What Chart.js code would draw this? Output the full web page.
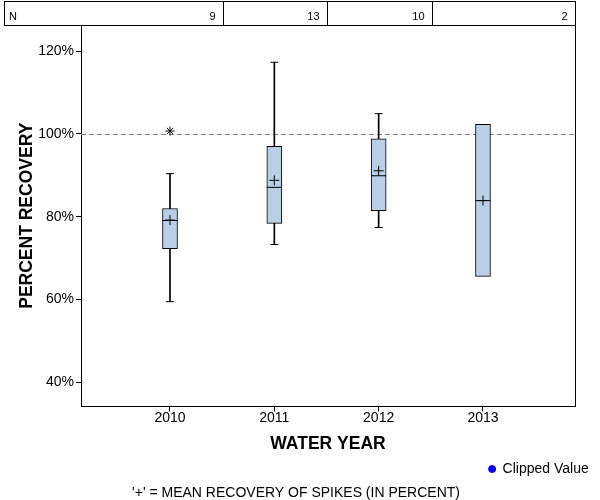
<!DOCTYPE html>
<html><head><meta charset="utf-8">
<script src="https://cdn.jsdelivr.net/npm/chart.js@4/dist/chart.umd.min.js"></script>
<style>html,body{margin:0;padding:0;background:#fff}#wrap{width:600px;height:500px;position:relative}</style>
</head><body><div id="wrap"><canvas id="c"></canvas></div>
<script>
const years = [2010, 2011, 2012, 2013];
const counts = [9, 13, 10, 2];
const whiskerLow = [59.5, 73.3, 77.4, null];
const q1 = [72.3, 78.4, 81.5, 65.6];
const median = [79.1, 87.1, 89.9, 83.9];
const q3 = [82.0, 97.0, 98.8, 102.3];
const whiskerHigh = [90.4, 117.3, 104.9, null];
const means = [79.2, 88.8, 91.1, 83.9];
const outlierYears = [2010];
const outlierValues = [100.7];
const yTicks = [40, 60, 80, 100, 120];
const referenceValue = 100;
const FONT = '"Liberation Sans", Arial, sans-serif';

const whiskerData = years.map((x, i) => whiskerLow[i] == null ? null : {x: x, y: [whiskerLow[i], whiskerHigh[i]]}).filter(d => d);
const boxData = years.map((x, i) => ({x: x, y: [q1[i], q3[i]]}));
const capData = [];
years.forEach((x, i) => {
  if (whiskerLow[i] != null) capData.push({x: x, y: whiskerLow[i]});
  if (whiskerHigh[i] != null) capData.push({x: x, y: whiskerHigh[i]});
});
const medianData = years.map((x, i) => ({x: x, y: median[i]}));
const meanData = years.map((x, i) => ({x: x, y: means[i]}));
const outlierData = outlierYears.map((x, i) => ({x: x, y: outlierValues[i]}));

const framePlugin = {
  id: 'frame',
  beforeDatasetsDraw(chart) {
    const {ctx, chartArea: a, scales} = chart;
    const y = Math.round(scales.y.getPixelForValue(referenceValue)) + 0.5;
    ctx.save();
    ctx.strokeStyle = '#808080';
    ctx.lineWidth = 1;
    ctx.setLineDash([5, 3]);
    ctx.beginPath(); ctx.moveTo(a.left, y); ctx.lineTo(a.right, y); ctx.stroke();
    ctx.restore();
  },
  afterDraw(chart) {
    const {ctx, chartArea: a, scales} = chart;
    const xs = scales.x;
    ctx.save();
    ctx.strokeStyle = '#000';
    ctx.lineWidth = 1;
    ctx.beginPath();
    ctx.moveTo(Math.round(a.right) + 0.5, Math.round(a.top));
    ctx.lineTo(Math.round(a.right) + 0.5, Math.round(a.bottom));
    ctx.stroke();
    const top = 1.5, bot = Math.round(a.top) + 0.5, left = 4.5, right = Math.round(a.right) + 0.5;
    ctx.strokeRect(left, top, right - left, bot - top);
    const dividers = [];
    for (let i = 0; i < years.length - 1; i++) {
      dividers.push(Math.round(xs.getPixelForValue((years[i] + years[i + 1]) / 2)) + 1.5);
    }
    dividers.forEach(d => { ctx.beginPath(); ctx.moveTo(d, top); ctx.lineTo(d, bot); ctx.stroke(); });
    ctx.fillStyle = '#000';
    ctx.font = '11px ' + FONT;
    ctx.textBaseline = 'middle';
    const my = (top + bot) / 2 + 3;
    ctx.textAlign = 'left';
    ctx.fillText('N', 9, my);
    ctx.textAlign = 'right';
    const ends = dividers.concat([right]);
    counts.forEach((n, i) => ctx.fillText(String(n), ends[i] - 8, my));
    ctx.restore();
  }
};

new Chart(document.getElementById('c'), {
  data: {
    datasets: [
      {type: 'bar', label: 'whisker', data: whiskerData, backgroundColor: '#000', borderWidth: 0, barThickness: 1, grouped: false, order: 5},
      {type: 'bar', label: 'box', data: boxData, backgroundColor: '#b9cfe7', borderColor: '#000', borderWidth: 1, borderSkipped: false, barThickness: 15, grouped: false, order: 4},
      {type: 'scatter', label: 'caps', data: capData, pointStyle: 'line', pointRadius: 4, borderColor: '#000', borderWidth: 1, order: 3},
      {type: 'scatter', label: 'median', data: medianData, pointStyle: 'line', pointRadius: 7.5, borderColor: '#000', borderWidth: 1, order: 2},
      {type: 'scatter', label: 'mean', data: meanData, pointStyle: 'cross', pointRadius: 5, borderColor: '#000', borderWidth: 1, order: 1},
      {type: 'scatter', label: 'outlier', data: outlierData, pointStyle: 'star', pointRadius: 4.5, borderColor: '#000', borderWidth: 1, order: 1},
      {type: 'scatter', label: 'Clipped Value', data: [], pointStyle: 'circle', backgroundColor: '#0000ff', borderColor: '#0000ff', order: 0}
    ]
  },
  options: {
    responsive: true,
    maintainAspectRatio: false,
    animation: false,
    layout: {padding: {left: 0, right: 8, top: 25, bottom: 0}},
    plugins: {
      tooltip: {enabled: false},
      legend: {
        position: 'bottom', align: 'end',
        labels: {
          filter: item => item.text === 'Clipped Value',
          usePointStyle: true, boxWidth: 7, boxHeight: 5, padding: 3.25,
          color: '#000', font: {family: FONT, size: 14}
        }
      },
      title: {
        display: true, position: 'bottom',
        text: "'+' = MEAN RECOVERY OF SPIKES (IN PERCENT)",
        color: '#000', font: {family: FONT, size: 14, weight: 'normal', lineHeight: 1.0},
        padding: {top: 0, bottom: 0}
      }
    },
    scales: {
      x: {
        type: 'linear', position: 'bottom', offset: false,
        min: 2009.147, max: 2013.882,
        afterBuildTicks: s => { s.ticks = years.map(v => ({value: v})); },
        afterFit: s => { s.height = 52.3; },
        ticks: {callback: v => String(v), color: '#000', font: {family: FONT, size: 14}, padding: -2, maxRotation: 0},
        grid: {display: true, offset: false, drawOnChartArea: false, drawTicks: true, tickLength: 5, color: '#000'},
        border: {display: true, color: '#000'},
        title: {display: true, text: 'WATER YEAR', color: '#000', font: {family: FONT, size: 17.5, weight: 'bold'}, padding: {top: 4, bottom: 4}}
      },
      y: {
        type: 'linear', position: 'left',
        min: 34.2, max: 126.3,
        afterBuildTicks: s => { s.ticks = yTicks.map(v => ({value: v})); },
        afterFit: s => { s.width = 81; },
        ticks: {callback: v => v + '%', color: '#000', font: {family: FONT, size: 14}, padding: 2},
        grid: {display: true, drawOnChartArea: false, drawTicks: true, tickLength: 5, color: '#000'},
        border: {display: true, color: '#000'},
        title: {display: true, text: 'PERCENT RECOVERY', color: '#000', font: {family: FONT, size: 17.5, weight: 'bold'}, padding: {top: 17, bottom: 4}}
      },
      yR: {
        type: 'linear', position: 'right', display: true,
        ticks: {display: false}, grid: {display: false}, border: {display: false},
        afterFit: s => { s.width = 17; }
      }
    }
  },
  plugins: [framePlugin]
});
</script>
</body></html>
